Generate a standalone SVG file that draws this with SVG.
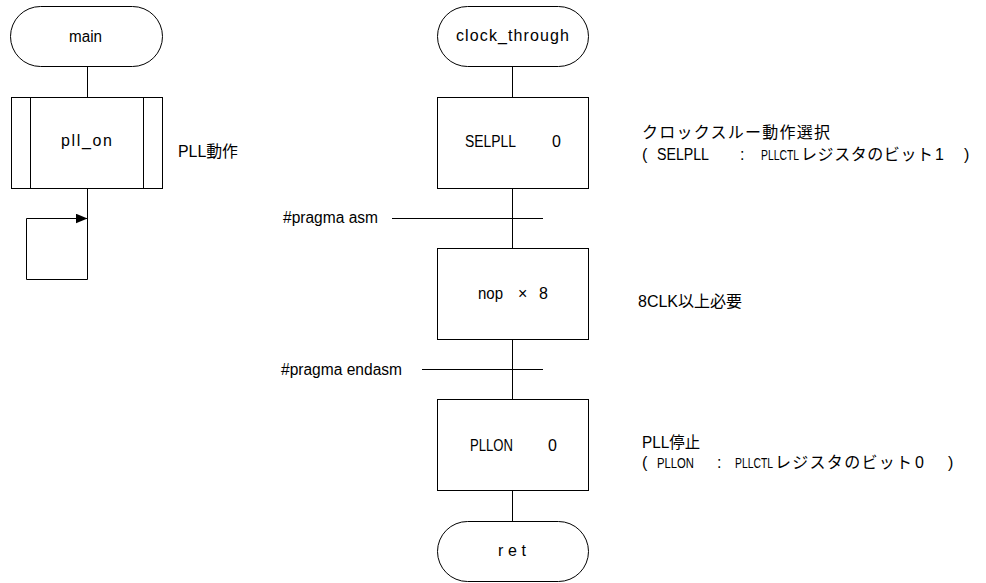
<svg xmlns="http://www.w3.org/2000/svg" width="986" height="583" viewBox="0 0 986 583">
<style>
.s{fill:#fff;stroke:#000;stroke-width:1}
.c{fill:none;stroke:#000;stroke-width:1}
text{font-family:"Liberation Sans","Noto Sans CJK JP",sans-serif;font-size:16px;fill:#000}
.n{font-size:15px}
</style>
<defs>
<marker id="ah" markerUnits="userSpaceOnUse" markerWidth="12" markerHeight="10" refX="12" refY="5" orient="auto">
<path d="M0,0 L12,5 L0,10 Z" fill="#000"/>
</marker>
</defs>
<rect width="986" height="583" fill="#fff"/>
<g id="connectors">
<line class="c" x1="87.5" y1="66" x2="87.5" y2="97"/>
<polyline class="c" points="87.5,188 87.5,279.5 26.5,279.5 26.5,218.5 87.5,218.5" marker-end="url(#ah)"/>
<line class="c" x1="512.5" y1="66" x2="512.5" y2="97"/>
<line class="c" x1="512.5" y1="188" x2="512.5" y2="248"/>
<line class="c" x1="512.5" y1="339" x2="512.5" y2="399"/>
<line class="c" x1="512.5" y1="490" x2="512.5" y2="521"/>
<line class="c" x1="392" y1="218.5" x2="543" y2="218.5"/>
<line class="c" x1="422" y1="369.5" x2="543" y2="369.5"/>
</g>
<g id="main">
<rect class="s" x="10.5" y="6.5" width="152" height="60" rx="30" ry="30"/>
<text x="69" y="42" textLength="33" lengthAdjust="spacingAndGlyphs">main</text>
</g>
<g id="pll_on">
<rect class="s" x="11.5" y="97.5" width="151" height="91"/>
<line class="c" x1="30.5" y1="97.5" x2="30.5" y2="188.5"/>
<line class="c" x1="143.5" y1="97.5" x2="143.5" y2="188.5"/>
<text x="61" y="146" textLength="51" lengthAdjust="spacing">pll_on</text>
<text x="178" y="157" textLength="60" lengthAdjust="spacingAndGlyphs">PLL動作</text>
</g>
<g id="clock_through">
<rect class="s" x="437.5" y="6.5" width="151" height="60" rx="30" ry="30"/>
<text x="456" y="41" textLength="113" lengthAdjust="spacing">clock_through</text>
</g>
<g id="selpll">
<rect class="s" x="437.5" y="97.5" width="151" height="91"/>
<text x="465" y="147" textLength="51" lengthAdjust="spacingAndGlyphs">SELPLL</text>
<text x="552" y="147">0</text>
<text x="642" y="138" textLength="188" lengthAdjust="spacing">クロックスルー動作選択</text>
<text x="642" y="160">(</text>
<text x="657" y="160" textLength="52" lengthAdjust="spacingAndGlyphs">SELPLL</text>
<text x="740" y="160">:</text>
<text x="761" y="160" class="n" textLength="38" lengthAdjust="spacingAndGlyphs">PLLCTL</text>
<text x="801" y="160" textLength="132" lengthAdjust="spacing">レジスタのビット</text>
<text x="935" y="160">1</text>
<text x="964" y="160">)</text>
</g>
<g id="pragma_asm">
<text x="283" y="223" textLength="95" lengthAdjust="spacingAndGlyphs">#pragma asm</text>
</g>
<g id="nop">
<rect class="s" x="437.5" y="248.5" width="151" height="91"/>
<text x="478" y="299" textLength="25" lengthAdjust="spacingAndGlyphs">nop</text>
<text x="518" y="299">×</text>
<text x="539" y="299">8</text>
<text x="638" y="307" textLength="104" lengthAdjust="spacingAndGlyphs">8CLK以上必要</text>
</g>
<g id="pragma_endasm">
<text x="281" y="375" textLength="121" lengthAdjust="spacingAndGlyphs">#pragma endasm</text>
</g>
<g id="pllon">
<rect class="s" x="437.5" y="399.5" width="151" height="91"/>
<text x="470" y="451" textLength="43" lengthAdjust="spacingAndGlyphs">PLLON</text>
<text x="548" y="451">0</text>
<text x="642" y="448" textLength="58" lengthAdjust="spacingAndGlyphs">PLL停止</text>
<text x="642" y="468">(</text>
<text x="657" y="468" class="n" textLength="37" lengthAdjust="spacingAndGlyphs">PLLON</text>
<text x="717" y="468">:</text>
<text x="735" y="468" class="n" textLength="38" lengthAdjust="spacingAndGlyphs">PLLCTL</text>
<text x="775" y="468" textLength="137" lengthAdjust="spacing">レジスタのビット</text>
<text x="915" y="468">0</text>
<text x="948" y="468">)</text>
</g>
<g id="ret">
<rect class="s" x="437.5" y="521.5" width="151" height="60" rx="30" ry="30"/>
<text x="498" y="556" textLength="28" lengthAdjust="spacing">ret</text>
</g>
</svg>
